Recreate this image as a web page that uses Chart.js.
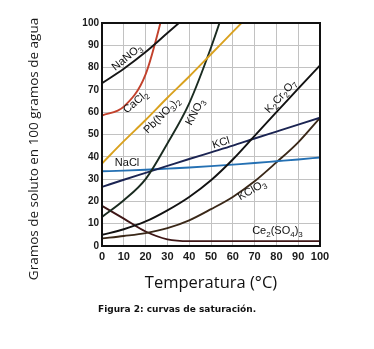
<!DOCTYPE html>
<html>
<head>
<meta charset="utf-8">
<script src="https://cdn.jsdelivr.net/npm/chart.js@4"></script>
<style>
  html, body { margin: 0; padding: 0; background: #fff; }
  #wrap { position: relative; width: 374px; height: 349px; }
  #caption { position: absolute; left: 98px; top: 304px; font: bold 9px "DejaVu Sans", sans-serif; color: #111; white-space: nowrap; }
</style>
</head>
<body>
<div id="wrap">
  <canvas id="c" width="374" height="349"></canvas>
  <div id="caption">Figura 2: curvas de saturación.</div>
</div>
<script>
// Temperatures (°C) at which each solubility curve was read
const temperatures = [0, 10, 20, 30, 40, 50, 60, 70, 80, 90, 100];
// Solubility (g solute / 100 g water); null = curve has left the chart
const naNO3   = [73, 79.5, 87, 95.5, 104, null, null, null, null, null, null];
const caCl2   = [58.5, 62.5, 77, 112, null, null, null, null, null, null, null];
const pbNO32  = [37, 47, 56.5, 66.5, 76, 86, 96, 106, null, null, null];
const kNO3    = [13, 20.5, 30, 46, 64, 89, 118, null, null, null, null];
const k2Cr2O7 = [5, 7.5, 11, 16, 22, 29.5, 38.8, 49.4, 60, 70.6, 81];
const kCl     = [26.5, 29.7, 32.8, 35.9, 39, 42, 45, 48.2, 51.3, 54.4, 57.5];
const naCl    = [33.5, 33.8, 34.2, 34.7, 35.2, 35.8, 36.5, 37.2, 38, 38.8, 39.7];
const kClO3   = [3.4, 4.5, 5.8, 8, 11.5, 16.5, 22, 29, 37.5, 46.5, 57.5];
const ce2SO43 = [18, 12.3, 6.5, 3, 2.2, 2.2, 2.2, 2.2, 2.2, 2.2, 2.2];
// Axis tick labels
const xTicks = [0, 10, 20, 30, 40, 50, 60, 70, 80, 90, 100];
const yTicks = [0, 10, 20, 30, 40, 50, 60, 70, 80, 90, 100];
// Curve names (digits drawn as subscripts)
const seriesNames = ['NaNO3', 'CaCl2', 'Pb(NO3)2', 'KNO3', 'K2Cr2O7', 'KCl', 'NaCl', 'KClO3', 'Ce2(SO4)3'];

const seriesValues = [naNO3, caCl2, pbNO32, kNO3, k2Cr2O7, kCl, naCl, kClO3, ce2SO43];
const seriesColors = ['#161616', '#c2412c', '#d9a11e', '#1a2b20', '#121212', '#1b2452', '#2470b3', '#3a2818', '#3e1616'];
// label anchors (data units) and rotation in degrees
const labelAnchors = [
  { t: 11.5, v: 84.5, angle: -39 },
  { t: 15.5, v: 64.5, angle: -40 },
  { t: 27.5, v: 58.5, angle: -45 },
  { t: 42.8, v: 60,   angle: -62 },
  { t: 82,   v: 67,   angle: -48 },
  { t: 54.6, v: 46.2, angle: -17 },
  { t: 11.5, v: 37.3, angle: 0 },
  { t: 68.8, v: 25,   angle: -30 },
  { t: 80.5, v: 6.7,  angle: 0 }
];

function toPoints(vals) {
  const pts = [];
  temperatures.forEach((t, i) => { if (vals[i] !== null) pts.push({ x: t, y: vals[i] }); });
  return pts;
}

const datasets = seriesNames.map((name, i) => ({
  label: name,
  data: toPoints(seriesValues[i]),
  borderColor: seriesColors[i],
  borderWidth: 1.9,
  pointRadius: 0,
  fill: false,
  cubicInterpolationMode: 'monotone'
}));

function drawFormula(ctx, text, x, y, angle, color) {
  const big = '11px "Liberation Sans", Arial, sans-serif';
  const small = '8px "Liberation Sans", Arial, sans-serif';
  const parts = [];
  for (const ch of text) {
    const sub = /[0-9]/.test(ch);
    if (parts.length && parts[parts.length - 1].sub === sub) parts[parts.length - 1].s += ch;
    else parts.push({ s: ch, sub });
  }
  let w = 0;
  parts.forEach(p => { ctx.font = p.sub ? small : big; p.w = ctx.measureText(p.s).width; w += p.w; });
  ctx.save();
  ctx.translate(x, y);
  ctx.rotate(angle * Math.PI / 180);
  ctx.fillStyle = color;
  ctx.textBaseline = 'middle';
  ctx.textAlign = 'left';
  let cx = -w / 2;
  parts.forEach(p => {
    ctx.font = p.sub ? small : big;
    ctx.fillText(p.s, cx, p.sub ? 3.5 : 0);
    cx += p.w;
  });
  ctx.restore();
}

const decorPlugin = {
  id: 'decor',
  afterDatasetsDraw(chart) {
    const ctx = chart.ctx;
    const xs = chart.scales.x, ys = chart.scales.y;
    seriesNames.forEach((name, i) => {
      const a = labelAnchors[i];
      drawFormula(ctx, name, xs.getPixelForValue(a.t), ys.getPixelForValue(a.v), a.angle, '#111');
    });
    const ca = chart.chartArea;
    ctx.save();
    ctx.strokeStyle = '#111';
    ctx.lineWidth = 2;
    ctx.strokeRect(ca.left, ca.top, ca.right - ca.left, ca.bottom - ca.top);
    ctx.restore();
  },
  afterDraw(chart) {
    const ctx = chart.ctx;
    ctx.save();
    ctx.translate(34, 149);
    ctx.rotate(-Math.PI / 2);
    ctx.font = '13.5px "Open Sans", sans-serif';
    ctx.fillStyle = '#1a1a1a';
    ctx.textAlign = 'center';
    ctx.textBaseline = 'middle';
    ctx.fillText('Gramos de soluto en 100 gramos de agua', 0, 0);
    ctx.restore();
  }
};

new Chart(document.getElementById('c'), {
  type: 'line',
  data: { datasets },
  plugins: [decorPlugin],
  options: {
    responsive: false,
    animation: false,
    layout: { padding: { left: 0, top: 23, right: 54, bottom: 43 } },
    plugins: { legend: { display: false }, tooltip: { enabled: false } },
    scales: {
      x: {
        type: 'linear', min: 0, max: 100,
        afterBuildTicks: s => { s.ticks = xTicks.map(v => ({ value: v })); },
        afterFit: s => { s.height = 60; },
        ticks: { color: '#1a1a1a', font: { family: '"Liberation Sans", Arial, sans-serif', size: 11, weight: 'bold' }, padding: 4, maxRotation: 0 },
        grid: { color: '#c2c2c2', lineWidth: 1, drawTicks: false },
        border: { color: '#111', width: 2 },
        title: { display: true, text: 'Temperatura (°C)', color: '#111', font: { family: '"Open Sans", sans-serif', size: 16.5 }, padding: { top: 0, bottom: 13 } }
      },
      y: {
        type: 'linear', min: 0, max: 100,
        afterBuildTicks: s => { s.ticks = yTicks.map(v => ({ value: v })); },
        afterFit: s => { s.width = 102; },
        ticks: { color: '#1a1a1a', font: { family: '"Liberation Sans", Arial, sans-serif', size: 10, weight: 'bold' }, padding: 3 },
        grid: { color: '#c2c2c2', lineWidth: 1, drawTicks: false },
        border: { color: '#111', width: 2 }
      }
    }
  }
});
</script>
</body>
</html>
